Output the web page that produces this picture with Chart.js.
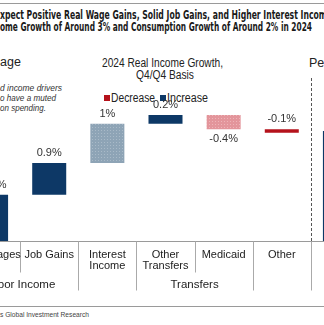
<!DOCTYPE html>
<html>
<head>
<meta charset="utf-8">
<script src="https://cdn.jsdelivr.net/npm/chart.js@4.4.1/dist/chart.umd.min.js"></script>
<style>
  html, body { margin:0; padding:0; width:324px; height:325px; overflow:hidden; background:#fff; }
  #wrap { position:relative; width:324px; height:325px; overflow:hidden; }
  canvas { position:absolute; left:-38px; top:0; }
  .t { position:absolute; white-space:nowrap; transform-origin:0 50%; font-family:"Liberation Sans", Arial, sans-serif; color:#222; }
  .title { font-family:"Liberation Sans Narrow","DejaVu Sans Condensed","Liberation Sans",sans-serif; font-weight:bold; font-size:11.5px; color:#1a1a1a; }
  .hr { position:absolute; left:0; width:324px; height:1px; background:#9a9a9a; }
</style>
</head>
<body>
<div id="wrap">
  <div class="hr" style="top:3px"></div>
  <div class="t title" data-w="332" style="left:0;top:8px">xpect Positive Real Wage Gains, Solid Job Gains, and Higher Interest Income</div>
  <div class="t title" data-w="312" style="left:0;top:20px">ome Growth of Around 3% and Consumption Growth of Around 2% in 2024</div>

  <div class="t" style="left:0;top:55px;font-size:12.5px;">age</div>
  <div class="t" data-w="62" style="left:0;top:83px;font-size:8.5px;font-style:italic;color:#333">d income drivers</div>
  <div class="t" data-w="56" style="left:0;top:93px;font-size:8.5px;font-style:italic;color:#333">o have a muted</div>
  <div class="t" data-w="46" style="left:0;top:103px;font-size:8.5px;font-style:italic;color:#333">on spending.</div>

  <div class="t" data-w="121" style="left:102px;top:56px;font-size:12.5px;">2024 Real Income Growth,</div>
  <div class="t" data-w="58" style="left:136px;top:68px;font-size:12.5px;">Q4/Q4 Basis</div>

  <div style="position:absolute;left:104px;top:95px;width:6px;height:6px;background:#b5121b"></div>
  <div class="t" data-w="44" style="left:111px;top:91px;font-size:12.5px;">Decrease</div>
  <div style="position:absolute;left:160px;top:95px;width:6px;height:6px;background:#0d3866"></div>
  <div class="t" data-w="41" style="left:167px;top:91px;font-size:12.5px;">Increase</div>

  <div class="t" style="left:309px;top:56px;font-size:12.5px;">Per</div>

  <div class="hr" style="top:306px"></div>
  <div class="t" data-w="89" style="left:0;top:310px;font-size:7.5px;color:#444">s Global Investment Research</div>

  <canvas id="c" width="407" height="325"></canvas>
</div>
<script>
// ---- data ----
const categories = [['Real Wages'], ['Job Gains'], ['Interest', 'Income'], ['Other', 'Transfers'], ['Medicaid'], ['Other'], ['']];
const changes = [1.3, 0.9, 1.1, 0.25, -0.4, -0.1];
const valueLabels = ['1.3%', '0.9%', '1%', '0.2%', '-0.4%', '-0.1%'];
const totalValue = 3.1;
const groupLabels = ['Labor Income', 'Transfers'];
const groupSpans = [[0, 1], [3, 4]];

// fit text widths
document.querySelectorAll('[data-w]').forEach(el => {
  const w = el.getBoundingClientRect().width;
  const target = parseFloat(el.dataset.w);
  if (w > 0) el.style.transform = 'scaleX(' + (target / w) + ')';
});

function dotPattern(bg, dot) {
  const p = document.createElement('canvas');
  p.width = 3; p.height = 3;
  const g = p.getContext('2d');
  g.fillStyle = bg; g.fillRect(0, 0, 3, 3);
  g.fillStyle = dot; g.fillRect(1, 1, 1, 1);
  return g.createPattern(p, 'repeat');
}
const cNavy = '#0d3866';
const cSteel = dotPattern('#8ea4b6', '#a9bac8');
const cPink = dotPattern('#e3959b', '#eeb4b8');
const cRed = '#b5121b';
const barColors = [cNavy, cNavy, cSteel, cNavy, cPink, cRed, cNavy];

// waterfall ranges built from the changes
const ranges = [];
let run = 0;
changes.forEach(v => { ranges.push([run, run + v]); run += v; });
ranges.push([0, totalValue]);

const labelBelow = [false, false, false, false, true, false];

const overlay = {
  id: 'overlay',
  afterDraw(chart) {
    const ctx = chart.ctx;
    const xs = chart.scales.x, ys = chart.scales.y;
    const base = Math.round(ys.getPixelForValue(0)) + 0.5;
    const step = xs.getPixelForValue(1) - xs.getPixelForValue(0);
    const edge = i => xs.getPixelForValue(i) - step / 2;
    ctx.save();
    // axis
    ctx.strokeStyle = '#9a9a9a'; ctx.lineWidth = 1;
    ctx.beginPath(); ctx.moveTo(0, base); ctx.lineTo(chart.width, base); ctx.stroke();
    // separators
    for (let i = 0; i < 6; i++) {
      const inner = groupSpans.some(s => i > s[0] && i <= s[1]);
      const x = Math.round(edge(i)) + 0.5;
      ctx.strokeStyle = '#aaaaaa';
      ctx.beginPath(); ctx.moveTo(x, base); ctx.lineTo(x, inner ? base + 31 : base + 49); ctx.stroke();
    }
    // dashed panel divider
    const dx = Math.round(edge(6)) + 0.5;
    ctx.strokeStyle = '#555'; ctx.setLineDash([3, 2]);
    ctx.beginPath(); ctx.moveTo(dx, 78); ctx.lineTo(dx, base); ctx.stroke();
    ctx.setLineDash([]);
    ctx.strokeStyle = '#aaaaaa';
    ctx.beginPath(); ctx.moveTo(dx, base); ctx.lineTo(dx, base + 49); ctx.stroke();
    // category labels
    ctx.fillStyle = '#222';
    ctx.font = '11px "Liberation Sans", Arial, sans-serif';
    ctx.textAlign = 'center'; ctx.textBaseline = 'middle';
    categories.forEach((lines, i) => {
      lines.forEach((t, j) => ctx.fillText(t, xs.getPixelForValue(i), base + 13 + j * 11.5));
    });
    // group labels
    ctx.font = '11.5px "Liberation Sans", Arial, sans-serif';
    groupLabels.forEach((t, k) => {
      const s = groupSpans[k];
      const cx = (edge(s[0]) + edge(s[1] + 1)) / 2;
      ctx.fillText(t, cx, base + 43);
    });
    // value labels
    ctx.font = '11px "Liberation Sans", Arial, sans-serif';
    ctx.fillStyle = '#333';
    valueLabels.forEach((t, i) => {
      const r = ranges[i];
      const top = ys.getPixelForValue(Math.max(r[0], r[1]));
      const bot = ys.getPixelForValue(Math.min(r[0], r[1]));
      const y = labelBelow[i] ? bot + 10 : top - 10;
      ctx.fillText(t, xs.getPixelForValue(i) + (i === 0 ? 3 : 0), y);
    });
    ctx.restore();
  }
};

new Chart(document.getElementById('c'), {
  type: 'bar',
  data: {
    labels: categories.map(c => c.join(' ')),
    datasets: [{
      data: ranges,
      backgroundColor: barColors,
      borderWidth: 0,
      barPercentage: 0.585,
      categoryPercentage: 1
    }]
  },
  options: {
    responsive: false,
    animation: false,
    devicePixelRatio: 1,
    layout: { padding: { top: 99, bottom: 84, left: 0, right: 0 } },
    plugins: { legend: { display: false }, tooltip: { enabled: false } },
    scales: {
      x: { display: false, offset: true },
      y: { display: false, min: 0, max: 4 }
    }
  },
  plugins: [overlay]
});
</script>
</body>
</html>
